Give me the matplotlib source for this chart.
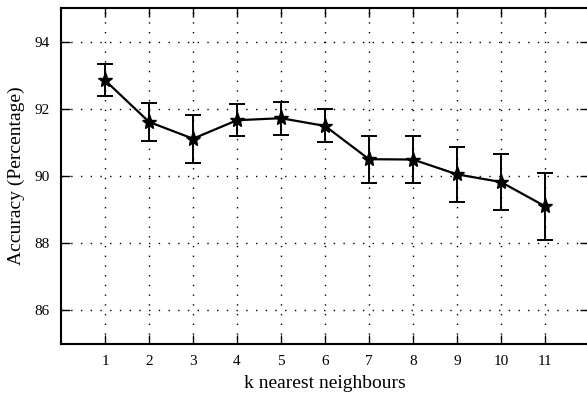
import matplotlib
matplotlib.use("Agg")
import matplotlib.pyplot as plt

# 数据
k_values = [1, 2, 3, 4, 5, 6, 7, 8, 9, 10, 11]
accuracy = [92.85, 91.61, 91.11, 91.66, 91.72, 91.49, 90.50, 90.49, 90.05, 89.82, 89.10]
accuracy_err = [0.47, 0.57, 0.71, 0.48, 0.49, 0.49, 0.70, 0.70, 0.82, 0.84, 0.99]
y_ticks = [86, 88, 90, 92, 94]

plt.rcParams['font.family'] = ['Liberation Serif', 'DejaVu Serif']
plt.rcParams['mathtext.fontset'] = 'stix'

fig = plt.figure(figsize=(5.87, 3.98), dpi=100)
# 右侧边框被裁掉一点
ax = fig.add_axes([61 / 587, 1 - 344 / 398, 528 / 587, 336 / 398])

ax.errorbar(k_values, accuracy, yerr=accuracy_err, color='black', linewidth=1.6,
            marker='*', markersize=11, elinewidth=1.4, capsize=5.5, capthick=1.4)

ax.set_xlim(0, 12)
ax.set_ylim(85, 95)
ax.set_xticks(k_values)
ax.set_yticks(y_ticks)
ax.grid(True, color='black', linestyle=(0, (1, 6)), linewidth=1.0)
ax.tick_params(direction='in', length=6.5, width=1.0, labelsize=11,
               top=True, right=True, pad=8)
for s in ax.spines.values():
    s.set_linewidth(1.5)

ax.set_xlabel('k nearest neighbours', fontsize=14, labelpad=5)
ax.set_ylabel('Accuracy (Percentage)', fontsize=14, labelpad=7)

fig.savefig('out.png', dpi=100)
